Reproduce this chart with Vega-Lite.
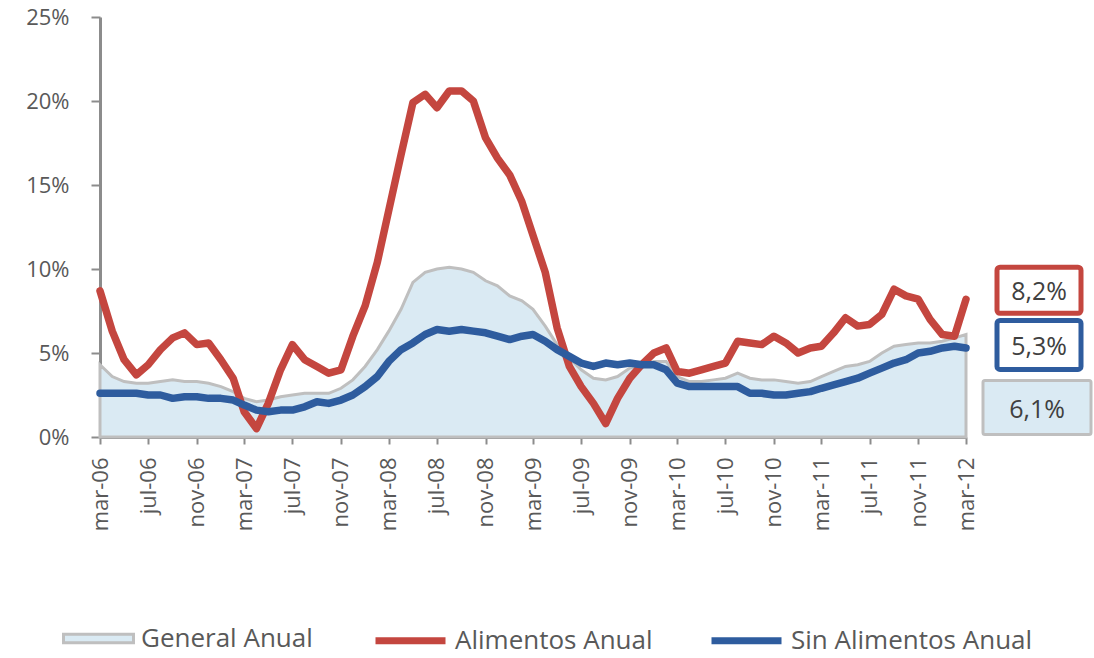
{
  "$schema": "https://vega.github.io/schema/vega-lite/v6.json",
  "autosize": "none",
  "width": 866,
  "height": 420,
  "padding": {"left": 100, "top": 17, "right": 128, "bottom": 221},
  "background": "white",
  "config": {
    "view": {"stroke": null},
    "axis": {"domainColor": "#8C8C8C", "domainWidth": 3, "tickColor": "#8C8C8C", "tickWidth": 2, "labelColor": "#595959", "labelFont": "Open Sans", "grid": false, "title": null},
    "legend": {"labelFont": "Open Sans", "labelFontSize": 26, "labelColor": "#595959", "labelLimit": 0, "title": null, "orient": "none", "direction": "horizontal", "symbolSize": 4900, "labelOffset": 6}
  },
  "datasets": {
    "mensual": [
      {"mes": "2006-03-01", "General Anual": 4.3, "Alimentos Anual": 8.7, "Sin Alimentos Anual": 2.6},
      {"mes": "2006-04-01", "General Anual": 3.6, "Alimentos Anual": 6.3, "Sin Alimentos Anual": 2.6},
      {"mes": "2006-05-01", "General Anual": 3.3, "Alimentos Anual": 4.6, "Sin Alimentos Anual": 2.6},
      {"mes": "2006-06-01", "General Anual": 3.2, "Alimentos Anual": 3.7, "Sin Alimentos Anual": 2.6},
      {"mes": "2006-07-01", "General Anual": 3.2, "Alimentos Anual": 4.3, "Sin Alimentos Anual": 2.5},
      {"mes": "2006-08-01", "General Anual": 3.3, "Alimentos Anual": 5.2, "Sin Alimentos Anual": 2.5},
      {"mes": "2006-09-01", "General Anual": 3.4, "Alimentos Anual": 5.9, "Sin Alimentos Anual": 2.3},
      {"mes": "2006-10-01", "General Anual": 3.3, "Alimentos Anual": 6.2, "Sin Alimentos Anual": 2.4},
      {"mes": "2006-11-01", "General Anual": 3.3, "Alimentos Anual": 5.5, "Sin Alimentos Anual": 2.4},
      {"mes": "2006-12-01", "General Anual": 3.2, "Alimentos Anual": 5.6, "Sin Alimentos Anual": 2.3},
      {"mes": "2007-01-01", "General Anual": 3.0, "Alimentos Anual": 4.6, "Sin Alimentos Anual": 2.3},
      {"mes": "2007-02-01", "General Anual": 2.7, "Alimentos Anual": 3.5, "Sin Alimentos Anual": 2.2},
      {"mes": "2007-03-01", "General Anual": 2.3, "Alimentos Anual": 1.5, "Sin Alimentos Anual": 1.9},
      {"mes": "2007-04-01", "General Anual": 2.1, "Alimentos Anual": 0.5, "Sin Alimentos Anual": 1.6},
      {"mes": "2007-05-01", "General Anual": 2.2, "Alimentos Anual": 2.0, "Sin Alimentos Anual": 1.5},
      {"mes": "2007-06-01", "General Anual": 2.4, "Alimentos Anual": 4.0, "Sin Alimentos Anual": 1.6},
      {"mes": "2007-07-01", "General Anual": 2.5, "Alimentos Anual": 5.5, "Sin Alimentos Anual": 1.6},
      {"mes": "2007-08-01", "General Anual": 2.6, "Alimentos Anual": 4.6, "Sin Alimentos Anual": 1.8},
      {"mes": "2007-09-01", "General Anual": 2.6, "Alimentos Anual": 4.2, "Sin Alimentos Anual": 2.1},
      {"mes": "2007-10-01", "General Anual": 2.6, "Alimentos Anual": 3.8, "Sin Alimentos Anual": 2.0},
      {"mes": "2007-11-01", "General Anual": 2.9, "Alimentos Anual": 4.0, "Sin Alimentos Anual": 2.2},
      {"mes": "2007-12-01", "General Anual": 3.4, "Alimentos Anual": 6.0, "Sin Alimentos Anual": 2.5},
      {"mes": "2008-01-01", "General Anual": 4.2, "Alimentos Anual": 7.8, "Sin Alimentos Anual": 3.0},
      {"mes": "2008-02-01", "General Anual": 5.2, "Alimentos Anual": 10.4, "Sin Alimentos Anual": 3.6},
      {"mes": "2008-03-01", "General Anual": 6.3, "Alimentos Anual": 13.5, "Sin Alimentos Anual": 4.5},
      {"mes": "2008-04-01", "General Anual": 7.6, "Alimentos Anual": 16.8, "Sin Alimentos Anual": 5.2},
      {"mes": "2008-05-01", "General Anual": 9.2, "Alimentos Anual": 19.9, "Sin Alimentos Anual": 5.6},
      {"mes": "2008-06-01", "General Anual": 9.8, "Alimentos Anual": 20.4, "Sin Alimentos Anual": 6.1},
      {"mes": "2008-07-01", "General Anual": 10.0, "Alimentos Anual": 19.6, "Sin Alimentos Anual": 6.4},
      {"mes": "2008-08-01", "General Anual": 10.1, "Alimentos Anual": 20.6, "Sin Alimentos Anual": 6.3},
      {"mes": "2008-09-01", "General Anual": 10.0, "Alimentos Anual": 20.6, "Sin Alimentos Anual": 6.4},
      {"mes": "2008-10-01", "General Anual": 9.8, "Alimentos Anual": 20.0, "Sin Alimentos Anual": 6.3},
      {"mes": "2008-11-01", "General Anual": 9.3, "Alimentos Anual": 17.8, "Sin Alimentos Anual": 6.2},
      {"mes": "2008-12-01", "General Anual": 9.0, "Alimentos Anual": 16.6, "Sin Alimentos Anual": 6.0},
      {"mes": "2009-01-01", "General Anual": 8.4, "Alimentos Anual": 15.6, "Sin Alimentos Anual": 5.8},
      {"mes": "2009-02-01", "General Anual": 8.1, "Alimentos Anual": 14.0, "Sin Alimentos Anual": 6.0},
      {"mes": "2009-03-01", "General Anual": 7.6, "Alimentos Anual": 12.0, "Sin Alimentos Anual": 6.1},
      {"mes": "2009-04-01", "General Anual": 6.6, "Alimentos Anual": 9.8, "Sin Alimentos Anual": 5.7},
      {"mes": "2009-05-01", "General Anual": 5.5, "Alimentos Anual": 6.5, "Sin Alimentos Anual": 5.2},
      {"mes": "2009-06-01", "General Anual": 4.7, "Alimentos Anual": 4.2, "Sin Alimentos Anual": 4.8},
      {"mes": "2009-07-01", "General Anual": 4.0, "Alimentos Anual": 3.0, "Sin Alimentos Anual": 4.4},
      {"mes": "2009-08-01", "General Anual": 3.5, "Alimentos Anual": 2.0, "Sin Alimentos Anual": 4.2},
      {"mes": "2009-09-01", "General Anual": 3.4, "Alimentos Anual": 0.8, "Sin Alimentos Anual": 4.4},
      {"mes": "2009-10-01", "General Anual": 3.6, "Alimentos Anual": 2.3, "Sin Alimentos Anual": 4.3},
      {"mes": "2009-11-01", "General Anual": 4.1, "Alimentos Anual": 3.5, "Sin Alimentos Anual": 4.4},
      {"mes": "2009-12-01", "General Anual": 4.3, "Alimentos Anual": 4.3, "Sin Alimentos Anual": 4.3},
      {"mes": "2010-01-01", "General Anual": 4.5, "Alimentos Anual": 5.0, "Sin Alimentos Anual": 4.3},
      {"mes": "2010-02-01", "General Anual": 4.5, "Alimentos Anual": 5.3, "Sin Alimentos Anual": 4.0},
      {"mes": "2010-03-01", "General Anual": 3.6, "Alimentos Anual": 3.9, "Sin Alimentos Anual": 3.2},
      {"mes": "2010-04-01", "General Anual": 3.3, "Alimentos Anual": 3.8, "Sin Alimentos Anual": 3.0},
      {"mes": "2010-05-01", "General Anual": 3.3, "Alimentos Anual": 4.0, "Sin Alimentos Anual": 3.0},
      {"mes": "2010-06-01", "General Anual": 3.4, "Alimentos Anual": 4.2, "Sin Alimentos Anual": 3.0},
      {"mes": "2010-07-01", "General Anual": 3.5, "Alimentos Anual": 4.4, "Sin Alimentos Anual": 3.0},
      {"mes": "2010-08-01", "General Anual": 3.8, "Alimentos Anual": 5.7, "Sin Alimentos Anual": 3.0},
      {"mes": "2010-09-01", "General Anual": 3.5, "Alimentos Anual": 5.6, "Sin Alimentos Anual": 2.6},
      {"mes": "2010-10-01", "General Anual": 3.4, "Alimentos Anual": 5.5, "Sin Alimentos Anual": 2.6},
      {"mes": "2010-11-01", "General Anual": 3.4, "Alimentos Anual": 6.0, "Sin Alimentos Anual": 2.5},
      {"mes": "2010-12-01", "General Anual": 3.3, "Alimentos Anual": 5.6, "Sin Alimentos Anual": 2.5},
      {"mes": "2011-01-01", "General Anual": 3.2, "Alimentos Anual": 5.0, "Sin Alimentos Anual": 2.6},
      {"mes": "2011-02-01", "General Anual": 3.3, "Alimentos Anual": 5.3, "Sin Alimentos Anual": 2.7},
      {"mes": "2011-03-01", "General Anual": 3.6, "Alimentos Anual": 5.4, "Sin Alimentos Anual": 2.9},
      {"mes": "2011-04-01", "General Anual": 3.9, "Alimentos Anual": 6.2, "Sin Alimentos Anual": 3.1},
      {"mes": "2011-05-01", "General Anual": 4.2, "Alimentos Anual": 7.1, "Sin Alimentos Anual": 3.3},
      {"mes": "2011-06-01", "General Anual": 4.3, "Alimentos Anual": 6.6, "Sin Alimentos Anual": 3.5},
      {"mes": "2011-07-01", "General Anual": 4.5, "Alimentos Anual": 6.7, "Sin Alimentos Anual": 3.8},
      {"mes": "2011-08-01", "General Anual": 5.0, "Alimentos Anual": 7.3, "Sin Alimentos Anual": 4.1},
      {"mes": "2011-09-01", "General Anual": 5.4, "Alimentos Anual": 8.8, "Sin Alimentos Anual": 4.4},
      {"mes": "2011-10-01", "General Anual": 5.5, "Alimentos Anual": 8.4, "Sin Alimentos Anual": 4.6},
      {"mes": "2011-11-01", "General Anual": 5.6, "Alimentos Anual": 8.2, "Sin Alimentos Anual": 5.0},
      {"mes": "2011-12-01", "General Anual": 5.6, "Alimentos Anual": 7.0, "Sin Alimentos Anual": 5.1},
      {"mes": "2012-01-01", "General Anual": 5.7, "Alimentos Anual": 6.1, "Sin Alimentos Anual": 5.3},
      {"mes": "2012-02-01", "General Anual": 5.9, "Alimentos Anual": 6.0, "Sin Alimentos Anual": 5.4},
      {"mes": "2012-03-01", "General Anual": 6.1, "Alimentos Anual": 8.2, "Sin Alimentos Anual": 5.3}
    ],
    "etiquetas": [
      {"mes": "2012-03-01", "serie": "Alimentos Anual", "texto": "8,2%", "valor": 8.2},
      {"mes": "2012-03-01", "serie": "Sin Alimentos Anual", "texto": "5,3%", "valor": 5.3},
      {"mes": "2012-03-01", "serie": "General Anual", "texto": "6,1%", "valor": 6.1}
    ]
  },
  "encoding": {
    "x": {
      "field": "mes", "type": "temporal",
      "scale": {"type": "utc", "domain": [{"year": 2006, "month": 3, "date": 1, "utc": true}, {"year": 2012, "month": 3, "date": 1, "utc": true}]},
      "axis": {
        "values": [
          {"year": 2006, "month": 3, "date": 1, "utc": true}, {"year": 2006, "month": 7, "date": 1, "utc": true}, {"year": 2006, "month": 11, "date": 1, "utc": true},
          {"year": 2007, "month": 3, "date": 1, "utc": true}, {"year": 2007, "month": 7, "date": 1, "utc": true}, {"year": 2007, "month": 11, "date": 1, "utc": true},
          {"year": 2008, "month": 3, "date": 1, "utc": true}, {"year": 2008, "month": 7, "date": 1, "utc": true}, {"year": 2008, "month": 11, "date": 1, "utc": true},
          {"year": 2009, "month": 3, "date": 1, "utc": true}, {"year": 2009, "month": 7, "date": 1, "utc": true}, {"year": 2009, "month": 11, "date": 1, "utc": true},
          {"year": 2010, "month": 3, "date": 1, "utc": true}, {"year": 2010, "month": 7, "date": 1, "utc": true}, {"year": 2010, "month": 11, "date": 1, "utc": true},
          {"year": 2011, "month": 3, "date": 1, "utc": true}, {"year": 2011, "month": 7, "date": 1, "utc": true}, {"year": 2011, "month": 11, "date": 1, "utc": true},
          {"year": 2012, "month": 3, "date": 1, "utc": true}
        ],
        "labelExpr": "['ene','feb','mar','abr','may','jun','jul','ago','sep','oct','nov','dic'][utcmonth(datum.value)] + '-' + utcFormat(datum.value, '%y')",
        "labelAngle": 270,
        "labelFontSize": 22,
        "tickSize": 7,
        "labelPadding": 13,
        "labelFlush": false,
        "labelOverlap": false
      }
    }
  },
  "layer": [
    {
      "data": {"name": "mensual"},
      "transform": [{"fold": ["General Anual", "Alimentos Anual", "Sin Alimentos Anual"], "as": ["serie", "valor"]}],
      "layer": [
        {
          "transform": [{"filter": "datum.serie === 'General Anual'"}],
          "mark": {"type": "area", "stroke": "#BFBFBF", "strokeWidth": 3, "opacity": 1, "fillOpacity": 1},
          "encoding": {
            "y": {"field": "valor", "type": "quantitative", "scale": {"domain": [0, 25], "nice": false},
              "axis": {"values": [0, 5, 10, 15, 20, 25], "labelExpr": "datum.value + '%'", "labelFontSize": 22, "tickSize": 9, "labelPadding": 22}},
            "fill": {
              "field": "serie", "type": "nominal",
              "scale": {"domain": ["General Anual"], "range": ["#DAEAF3"]},
              "legend": {
                "legendX": -38, "legendY": 585,
                "symbolType": "M-1,-0.12H1V0.12H-1Z",
                "symbolStrokeColor": "#BFBFBF", "symbolStrokeWidth": 3, "symbolOpacity": 1
              }
            }
          }
        },
        {
          "transform": [{"filter": "datum.serie !== 'General Anual'"}],
          "mark": {"type": "line", "strokeWidth": 7.5, "strokeJoin": "round", "strokeCap": "round"},
          "encoding": {
            "y": {"field": "valor", "type": "quantitative"},
            "stroke": {
              "field": "serie", "type": "nominal",
              "scale": {"domain": ["Alimentos Anual", "Sin Alimentos Anual"], "range": ["#C4463F", "#2E5C9E"]},
              "legend": {
                "legendX": 272, "legendY": 585,
                "symbolType": "stroke", "symbolStrokeWidth": 7, "columnPadding": 44, "symbolOpacity": 1
              }
            }
          }
        }
      ]
    },
    {
      "data": {"name": "etiquetas"},
      "transform": [{"filter": "datum.serie === 'Alimentos Anual'"}],
      "encoding": {
        "x": {"field": "mes", "type": "temporal"},
        "y": {"field": "valor", "type": "quantitative"}
      },
      "layer": [
        {"mark": {"type": "rect", "width": 84, "height": 46, "xOffset": 73, "yOffset": -9, "fill": "white", "stroke": "#C4463F", "strokeWidth": 5, "cornerRadius": 3}},
        {"mark": {"type": "text", "font": "Open Sans", "fontSize": 25, "color": "#404040", "xOffset": 73, "yOffset": -7}, "encoding": {"text": {"field": "texto"}}}
      ]
    },
    {
      "data": {"name": "etiquetas"},
      "transform": [{"filter": "datum.serie === 'Sin Alimentos Anual'"}],
      "encoding": {
        "x": {"field": "mes", "type": "temporal"},
        "y": {"field": "valor", "type": "quantitative"}
      },
      "layer": [
        {"mark": {"type": "rect", "width": 84, "height": 49, "xOffset": 73, "yOffset": -3, "fill": "white", "stroke": "#2E5C9E", "strokeWidth": 5, "cornerRadius": 3}},
        {"mark": {"type": "text", "font": "Open Sans", "fontSize": 25, "color": "#404040", "xOffset": 73, "yOffset": -1}, "encoding": {"text": {"field": "texto"}}}
      ]
    },
    {
      "data": {"name": "etiquetas"},
      "transform": [{"filter": "datum.serie === 'General Anual'"}],
      "encoding": {
        "x": {"field": "mes", "type": "temporal"},
        "y": {"field": "valor", "type": "quantitative"}
      },
      "layer": [
        {"mark": {"type": "rect", "width": 108, "height": 54, "xOffset": 71, "yOffset": 73, "fill": "#DAEAF3", "stroke": "#BFBFBF", "strokeWidth": 3, "cornerRadius": 2}},
        {"mark": {"type": "text", "font": "Open Sans", "fontSize": 25, "color": "#404040", "xOffset": 71, "yOffset": 75}, "encoding": {"text": {"field": "texto"}}}
      ]
    }
  ]
}
